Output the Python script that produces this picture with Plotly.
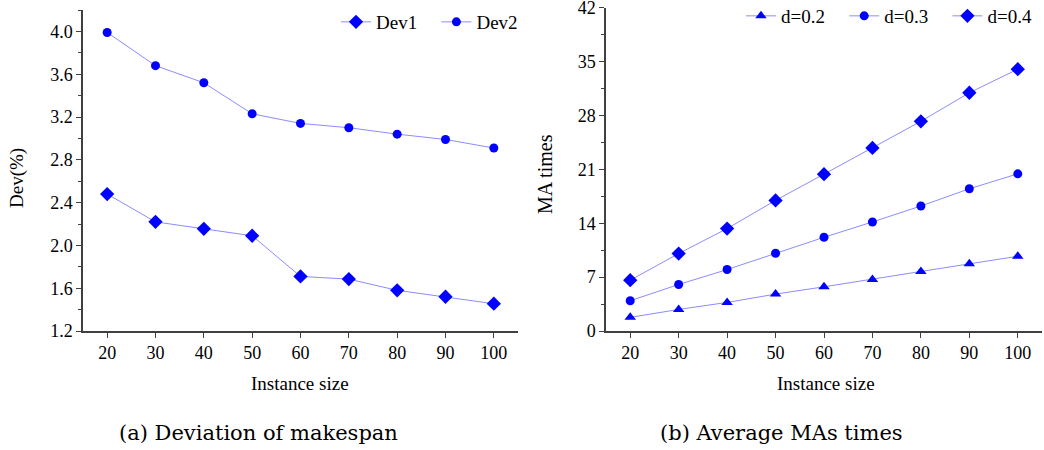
import plotly.graph_objects as go

sizes = [20, 30, 40, 50, 60, 70, 80, 90, 100]
dev1 = [2.48, 2.22, 2.155, 2.09, 1.71, 1.685, 1.58, 1.52, 1.455]
dev2 = [3.99, 3.68, 3.52, 3.23, 3.14, 3.10, 3.04, 2.99, 2.91]
ma_d02 = [1.77, 2.8, 3.71, 4.79, 5.74, 6.69, 7.73, 8.72, 9.71]
ma_d03 = [3.93, 6.04, 7.98, 10.1, 12.17, 14.16, 16.23, 18.47, 20.41]
ma_d04 = [6.6, 10.06, 13.3, 16.96, 20.37, 23.78, 27.23, 30.94, 34.0]

LINE = "#8c8cff"
MARK = "#0000ff"
FONT = "Liberation Serif"
CAPFONT = "DejaVu Serif"
W, H = 1044, 450
PAD = "\u00a0\u00a0\u00a0"

fig = go.Figure()

def add(x, y, name, symbol, size, xa, ya, legend, pad=True):
    fig.add_trace(go.Scatter(
        x=x, y=y, name=name + (PAD if pad else ""), mode="lines+markers",
        line=dict(color=LINE, width=1),
        marker=dict(symbol=symbol, size=size, color=MARK),
        xaxis=xa, yaxis=ya, legend=legend))

add(sizes, dev1, "Dev1", "diamond", 11, "x", "y", "legend")
add(sizes, dev2, "Dev2", "circle", 9, "x", "y", "legend", pad=False)
add(sizes, ma_d02, "d=0.2", "triangle-up", 10, "x2", "y2", "legend2")
add(sizes, ma_d03, "d=0.3", "circle", 9, "x2", "y2", "legend2")
add(sizes, ma_d04, "d=0.4", "diamond", 11, "x2", "y2", "legend2", pad=False)

axis_common = dict(
    showline=True, linecolor="#404040", linewidth=1.5,
    ticks="outside", ticklen=5, tickwidth=1.2, tickcolor="#404040",
    showgrid=False, zeroline=False, automargin=False,
    ticklabeloverflow="allow",
    tickfont=dict(family=FONT, size=18, color="black"),
)

fig.update_layout(
    width=W, height=H,
    margin=dict(l=0, r=0, t=0, b=0, autoexpand=False),
    paper_bgcolor="white", plot_bgcolor="white",
    font=dict(family=FONT, color="black"),
    xaxis=dict(domain=[83 / W, 518 / W], range=[15, 105],
               tickvals=sizes, anchor="y", **axis_common),
    yaxis=dict(domain=[1 - 331 / H, 1 - 10 / H], range=[1.2, 4.2001],
               tick0=1.2, dtick=0.4, tickformat=".1f", anchor="x",
               minor=dict(ticks="outside", ticklen=3, dtick=0.2, tick0=1.2,
                          tickcolor="#404040", showgrid=False),
               **axis_common),
    xaxis2=dict(domain=[606 / W, 1042 / W], range=[15, 105],
                tickvals=sizes, anchor="y2", **axis_common),
    yaxis2=dict(domain=[1 - 331 / H, 1 - 7.5 / H], range=[0, 42.01],
                tick0=0, dtick=7, anchor="x2",
                minor=dict(ticks="outside", ticklen=3, dtick=3.5, tick0=0,
                           tickcolor="#404040", showgrid=False),
                **axis_common),
    legend=dict(orientation="h", x=523 / W, xanchor="right",
                y=1 - 22 / H, yanchor="middle",
                font=dict(family=FONT, size=19), bgcolor="rgba(0,0,0,0)",
                tracegroupgap=0),
    legend2=dict(orientation="h", x=1037 / W, xanchor="right",
                 y=1 - 16 / H, yanchor="middle",
                 font=dict(family=FONT, size=19), bgcolor="rgba(0,0,0,0)",
                 tracegroupgap=0),
)

annotations = [
    dict(text="Dev(%)", x=17 / W, y=1 - 178 / H, textangle=-90, size=19, font=FONT),
    dict(text="MA times", x=545 / W, y=1 - 174 / H, textangle=-90, size=20, font=FONT),
    dict(text="Instance size", x=300 / W, y=1 - 383 / H, textangle=0, size=19, font=FONT),
    dict(text="Instance size", x=826 / W, y=1 - 383 / H, textangle=0, size=19, font=FONT),
    dict(text="(a) Deviation of makespan", x=258 / W, y=1 - 433 / H, textangle=0, size=21, font=CAPFONT),
    dict(text="(b) Average MAs times", x=781 / W, y=1 - 433 / H, textangle=0, size=21, font=CAPFONT),
]
for a in annotations:
    fig.add_annotation(text=a["text"], x=a["x"], y=a["y"], xref="paper", yref="paper",
                       showarrow=False, textangle=a["textangle"],
                       xanchor="center", yanchor="middle",
                       font=dict(family=a["font"], size=a["size"], color="black"))

fig.write_html(
    "out.html",
    config={"displayModeBar": False},
    post_script="document.body.style.margin='0';document.body.style.overflow='hidden';",
)
